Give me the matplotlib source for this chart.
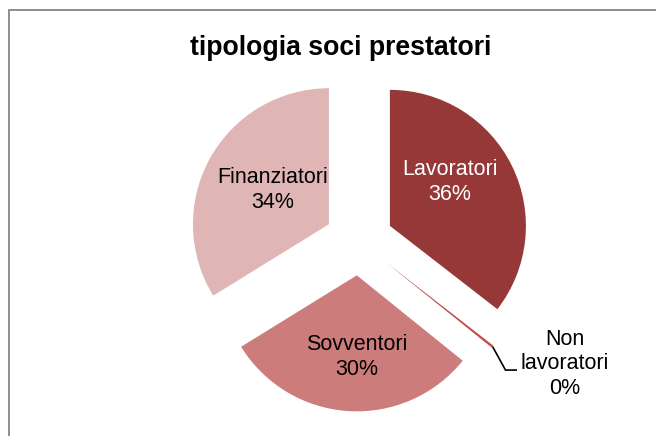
import matplotlib.pyplot as plt
from matplotlib.patches import Rectangle
import numpy as np

plt.rcParams['font.family'] = ['Liberation Sans', 'DejaVu Sans']

# share of each type of member lender (percent)
categorie = ["Lavoratori", "Non lavoratori", "Sovventori", "Finanziatori"]
quote = [35.5, 0.3, 30.4, 33.8]
etichette = ["Lavoratori\n36%", "Non\nlavoratori\n0%", "Sovventori\n30%", "Finanziatori\n34%"]

colori = ["#953837", "#C0504D", "#CC7C7B", "#DFB6B5"]
colori_testo = ["white", "black", "black", "black"]
stacco = 0.253

fig = plt.figure(figsize=(6.56, 4.36), dpi=100)
ax = fig.add_axes([0, 0, 1, 1])

wedges, _ = ax.pie(quote, startangle=90, counterclock=False, colors=colori,
                   explode=[stacco] * len(quote), radius=1.0,
                   wedgeprops=dict(linewidth=0))

# axis window: 136 px per radius, pie centre at (359, 241) px
ax.set_xlim(-359 / 136, (656 - 359) / 136)
ax.set_ylim(-(436 - 241) / 136, 241 / 136)
ax.set_aspect('auto')
ax.axis('off')

# label anchors, relative to the un-exploded centre
pos_etichette = [(0.669, 0.434), (1.515, -0.904), (-0.015, -0.853), (-0.632, 0.375)]
for testo, (x, y), c in zip(etichette, pos_etichette, colori_testo):
    ax.text(x, y, testo, ha='center', va='center', fontsize=15.5,
            color=c, linespacing=1.2)

# leader line for the tiny slice
w = wedges[1]
mid = np.deg2rad((w.theta1 + w.theta2) / 2)
cx, cy = w.center
punta = (cx + w.r * np.cos(mid), cy + w.r * np.sin(mid))
ax.plot([punta[0], 1.077, 1.162], [punta[1], -0.949, -0.949],
        color='black', linewidth=1.2, solid_capstyle='butt')

fig.text(0.52, 0.89, "tipologia soci prestatori", ha='center', va='center',
         fontsize=19.2, fontweight='bold')

# chart area border
fig.patches.append(Rectangle((9 / 656, -0.1), 1.2, 1.1 - 10 / 436,
                             transform=fig.transFigure, fill=False,
                             edgecolor='#868686', linewidth=1.3))

fig.savefig("out.png", dpi=100)
